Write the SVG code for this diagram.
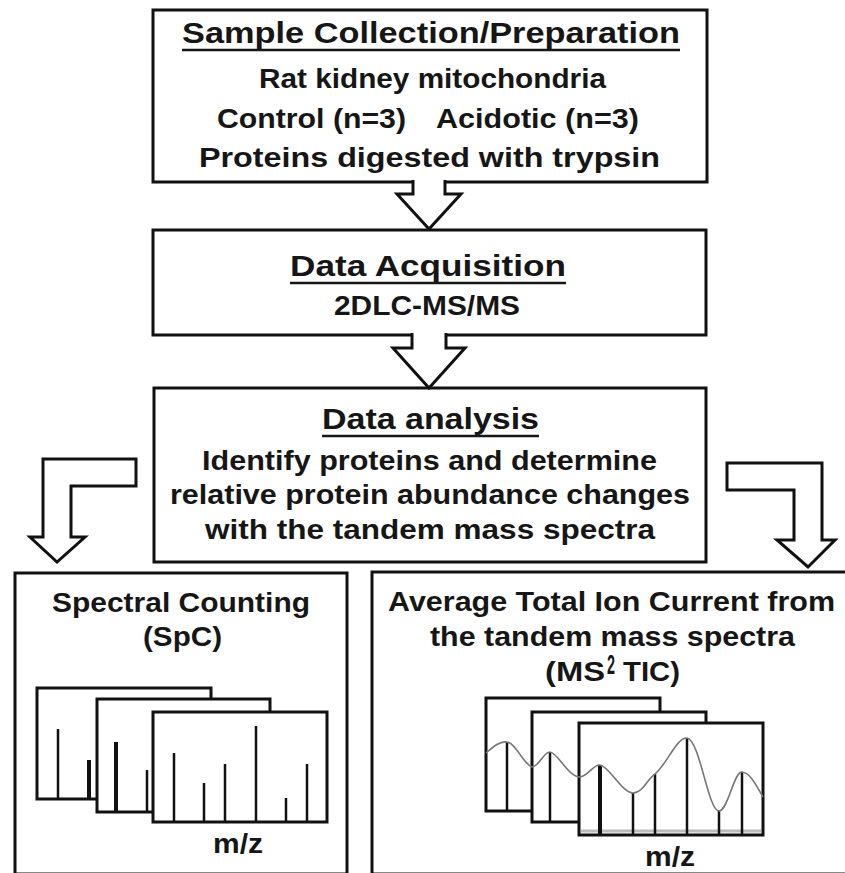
<svg xmlns="http://www.w3.org/2000/svg" width="845" height="873" viewBox="0 0 845 873">
  <defs>
    <style>
      .box { fill: #fff; stroke: #111; stroke-width: 3; }
      .arrow { fill: #fff; stroke: #111; stroke-width: 3; stroke-linejoin: miter; }
      .t { font-family: "Liberation Sans", Arial, sans-serif; font-weight: bold; fill: #161616; font-size: 27px; }
      .h { font-size: 29px; }
      .ul { stroke: #161616; stroke-width: 2.5; }
      .panel { fill: #fff; stroke: #111; stroke-width: 3; }
      .peak { stroke: #111; stroke-width: 2.5; }
      .thick { stroke-width: 4; }
      .tic { fill: none; stroke: #777; stroke-width: 1.6; }
    </style>
  </defs>
  <rect width="845" height="873" fill="#fff"/>

  <!-- Step 1 -->
  <g id="sample-collection">
    <rect class="box" x="153" y="10" width="554" height="172"/>
    <text class="t h" x="182" y="43" textLength="498" lengthAdjust="spacingAndGlyphs">Sample Collection/Preparation</text>
    <line class="ul" x1="182" y1="50" x2="680" y2="50"/>
    <text class="t" x="259" y="88" textLength="347" lengthAdjust="spacingAndGlyphs">Rat kidney mitochondria</text>
    <text class="t" x="217" y="128" textLength="189" lengthAdjust="spacingAndGlyphs">Control (n=3)</text>
    <text class="t" x="436" y="128" textLength="203" lengthAdjust="spacingAndGlyphs">Acidotic (n=3)</text>
    <text class="t" x="199" y="167" textLength="461" lengthAdjust="spacingAndGlyphs">Proteins digested with trypsin</text>
  </g>

  <!-- Step 2 -->
  <g id="data-acquisition">
    <rect class="box" x="153" y="230" width="553" height="105"/>
    <text class="t h" x="290" y="276" textLength="276" lengthAdjust="spacingAndGlyphs">Data Acquisition</text>
    <line class="ul" x1="290" y1="283" x2="566" y2="283"/>
    <text class="t" x="334" y="315" textLength="186" lengthAdjust="spacingAndGlyphs">2DLC-MS/MS</text>
  </g>

  <!-- Step 3 -->
  <g id="data-analysis">
    <rect class="box" x="154" y="388" width="552" height="174"/>
    <text class="t h" x="322" y="429" textLength="217" lengthAdjust="spacingAndGlyphs">Data analysis</text>
    <line class="ul" x1="322" y1="436" x2="539" y2="436"/>
    <text class="t" x="202" y="470" textLength="455" lengthAdjust="spacingAndGlyphs">Identify proteins and determine</text>
    <text class="t" x="170" y="504" textLength="520" lengthAdjust="spacingAndGlyphs">relative protein abundance changes</text>
    <text class="t" x="205" y="539" textLength="450" lengthAdjust="spacingAndGlyphs">with the  tandem mass spectra</text>
  </g>

  <!-- Quantitation method A: spectral counting -->
  <g id="spectral-counting">
    <rect class="box" x="15" y="573" width="332" height="301"/>
    <text class="t" x="52" y="612" textLength="258" lengthAdjust="spacingAndGlyphs">Spectral Counting</text>
    <text class="t" x="143" y="646" textLength="79" lengthAdjust="spacingAndGlyphs">(SpC)</text>
    <rect class="panel" x="37" y="688" width="174" height="111"/>
    <line class="peak" x1="58" y1="729" x2="58" y2="799"/>
    <line class="peak thick" x1="89" y1="760" x2="89" y2="799"/>
    <rect class="panel" x="97" y="699" width="173" height="113"/>
    <line class="peak thick" x1="116" y1="742" x2="116" y2="812"/>
    <line class="peak" x1="147" y1="770" x2="147" y2="812"/>
    <rect class="panel" x="153" y="712" width="174" height="110"/>
    <line class="peak" x1="174" y1="753" x2="174" y2="822"/>
    <line class="peak" x1="204" y1="783" x2="204" y2="822"/>
    <line class="peak" x1="225" y1="764" x2="225" y2="822"/>
    <line class="peak" x1="256" y1="726" x2="256" y2="822"/>
    <line class="peak" x1="286" y1="798" x2="286" y2="822"/>
    <line class="peak" x1="307" y1="764" x2="307" y2="822"/>
    <text class="t" x="213" y="853" textLength="50" lengthAdjust="spacingAndGlyphs">m/z</text>
  </g>

  <!-- Quantitation method B: MS2 total ion current -->
  <g id="ms2-tic">
    <rect class="box" x="372" y="572" width="490" height="302"/>
    <text class="t" x="388" y="611" textLength="447" lengthAdjust="spacingAndGlyphs">Average Total Ion Current from</text>
    <text class="t" x="430" y="646" textLength="365" lengthAdjust="spacingAndGlyphs">the tandem mass spectra</text>
    <text class="t" x="545" y="681" textLength="60" lengthAdjust="spacingAndGlyphs">(MS</text>
    <text class="t" x="607" y="674" font-size="12" textLength="8" lengthAdjust="spacingAndGlyphs">2</text>
    <text class="t" x="623" y="681" textLength="57" lengthAdjust="spacingAndGlyphs">TIC)</text>
    <rect class="panel" x="486" y="698" width="174" height="113"/>
    <line class="peak" x1="507" y1="742" x2="507" y2="811"/>
    <rect class="panel" x="532" y="712" width="174" height="110"/>
    <line class="peak" x1="550" y1="752" x2="550" y2="822"/>
    <rect class="panel" x="579" y="723" width="184" height="112"/>
    <line x1="581" y1="831" x2="761" y2="831" stroke="#bbb" stroke-width="3"/>
    <line class="peak thick" x1="600" y1="765" x2="600" y2="835"/>
    <line class="peak" x1="633" y1="793" x2="633" y2="835"/>
    <line class="peak" x1="655" y1="774" x2="655" y2="835"/>
    <line class="peak" x1="687" y1="738" x2="687" y2="835"/>
    <line class="peak" x1="719" y1="811" x2="719" y2="835"/>
    <line class="peak" x1="742" y1="772" x2="742" y2="835"/>
    <path class="tic" d="M486,753 C494,746 500,741 507,742 C516,743 523,764 532,767 C540,766 544,751 550,752 C558,753 568,776 579,777 C588,777 593,764 600,765 C609,766 622,793 633,793 C643,793 648,778 655,774 C667,764 677,737 687,738 C700,740 708,811 719,811 C728,811 734,771 742,772 C751,773 757,787 763,797"/>
    <text class="t" x="645" y="866" textLength="50" lengthAdjust="spacingAndGlyphs">m/z</text>
  </g>

  <!-- Block arrows between steps -->
  <g id="connectors">
    <path class="arrow" d="M413,180 V194 H397 L429,229 L461,194 H445 V180"/>
    <path class="arrow" d="M412,333 V348 H393 L429,388 L465,348 H446 V333"/>
    <path class="arrow" d="M136,459 H43 V537 H30 L57,562 L85,537 H71 V486 H136 Z"/>
    <path class="arrow" d="M727,463 H822 V540 H835 L808,567 L777,540 H794 V490 H727 Z"/>
  </g>
</svg>
